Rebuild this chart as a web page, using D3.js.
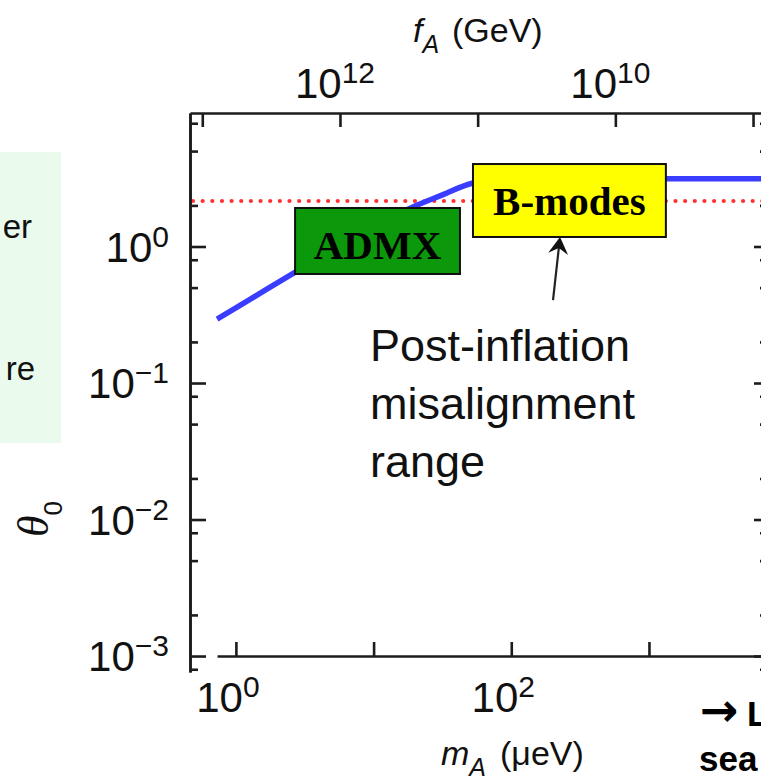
<!DOCTYPE html>
<html><head><meta charset="utf-8">
<script src="https://cdn.jsdelivr.net/npm/d3@7"></script>
<style>html,body{margin:0;padding:0;background:#fff;} svg{display:block;}</style>
</head><body><svg id="chart" width="761" height="782"></svg>
<script>
// ---------- data ----------
const massMicroeV = [0.73, 1, 2.7, 5, 10, 19.3, 30, 52.7, 80, 150, 400, 7000];
const theta0 = [0.294, 0.355, 0.65, 0.94, 1.40, 1.95, 2.34, 2.92, 3.08, 3.13, 3.14, 3.14];
const postInflationTheta = 2.155;
const bottomTickExps = [0, 1, 2, 3];
const bottomLabelExps = [0, 2];
const topTickExps = [13, 12, 11, 10, 9];
const topLabelExps = [12, 10];
const leftMajorExps = [0, -1, -2, -3];
const leftLabelExps = [0, -1, -2, -3];
const minorMultipliers = [2, 5, 8];
const boxLabels = ["ADMX", "B-modes"];
const boxMass = [[2.69, 42.4], [52.7, 1327]];
const boxTheta = [[0.629, 1.915], [1.174, 4.02]];
const boxFill = ["#0b990b", "#ffff00"];
const annotationLines = ["Post-inflation", "misalignment", "range"];
const arrowFrom = [201, 0.405];
const arrowTo = [226, 1.174];
const conversion = 5.7e12; // f_A [GeV] * m_A [μeV]
const sideTexts = ["er", "re"];

// ---------- setup ----------
const svg = d3.select("#chart");
svg.append("rect").attr("width", 761).attr("height", 782).attr("fill", "#fff");

const x = d3.scaleLog().domain([Math.pow(10, -1/3), Math.pow(10, 3.85)]).range([190, 766]);
const y = d3.scaleLog().domain([Math.pow(10, -3.117), Math.pow(10, 0.978)]).range([672, 113]);
const fx = d3.scaleLog().domain([conversion / x.domain()[0], conversion / x.domain()[1]]).range([190, 766]);
const xb = d3.scaleLog().domain([massMicroeV[0], x.domain()[1]]).range([x(massMicroeV[0]), 766]);

const SANS = "'Liberation Sans', Arial, Helvetica, sans-serif";
const SERIF = "'Liberation Serif', 'Times New Roman', serif";
const AX = "#1c1c1c";

// left side panel (cropped neighbour)
svg.append("rect").attr("x", 0).attr("y", 152).attr("width", 61).attr("height", 291).attr("fill", "#eafbee");
svg.append("text").attr("x", 32).attr("y", 238).attr("text-anchor", "end")
  .attr("font-family", SANS).attr("font-size", 33).attr("fill", "#111").text(sideTexts[0]);
svg.append("text").attr("x", 35).attr("y", 380).attr("text-anchor", "end")
  .attr("font-family", SANS).attr("font-size", 33).attr("fill", "#111").text(sideTexts[1]);

// clip
svg.append("clipPath").attr("id", "plotclip").append("rect")
  .attr("x", 190).attr("y", 113).attr("width", 576).attr("height", 559);
const plot = svg.append("g").attr("clip-path", "url(#plotclip)");

// red dotted line
plot.append("path")
  .attr("d", d3.line()([[x.range()[0] + 3, y(postInflationTheta)], [x.range()[1], y(postInflationTheta)]]))
  .attr("stroke", "#ff3030").attr("stroke-width", 4.2).attr("stroke-linecap", "round")
  .attr("stroke-dasharray", "0 9.65").attr("fill", "none");

// blue curve
const pts = massMicroeV.map((m, i) => [m, theta0[i]]);
plot.append("path").datum(pts)
  .attr("d", d3.line().x(d => x(d[0])).y(d => y(d[1])).curve(d3.curveMonotoneX))
  .attr("stroke", "#3a3cff").attr("stroke-width", 5.5).attr("fill", "none");

// boxes
boxLabels.forEach((lab, i) => {
  const x0 = x(boxMass[i][0]), x1 = x(boxMass[i][1]);
  const y0 = y(boxTheta[i][1]), y1 = y(boxTheta[i][0]);
  svg.append("rect").attr("x", x0).attr("y", y0).attr("width", x1 - x0).attr("height", y1 - y0)
    .attr("fill", boxFill[i]).attr("stroke", "#111").attr("stroke-width", 2);
  svg.append("text").attr("x", (x0 + x1) / 2).attr("y", y1 - (i === 0 ? 15 : 22))
    .attr("text-anchor", "middle").attr("font-family", SERIF).attr("font-weight", "bold")
    .attr("font-size", 41).attr("fill", "#000").text(lab);
});

// arrow
{
  const tx = x(arrowTo[0]), ty = y(arrowTo[1]);
  const sx = x(arrowFrom[0]), sy = y(arrowFrom[1]);
  const ang = Math.atan2(ty - sy, tx - sx);
  const L = 17, W = 10, N = 6;
  const ux = Math.cos(ang), uy = Math.sin(ang), px = -uy, py = ux;
  svg.append("line").attr("x1", sx).attr("y1", sy).attr("x2", tx - ux * 10).attr("y2", ty - uy * 10)
    .attr("stroke", "#222").attr("stroke-width", 2.2);
  const head = [
    [tx, ty],
    [tx - ux * L + px * W, ty - uy * L + py * W],
    [tx - ux * (L - N), ty - uy * (L - N)],
    [tx - ux * L - px * W, ty - uy * L - py * W]
  ];
  svg.append("path").attr("d", "M" + head.map(p => p.join(",")).join("L") + "Z").attr("fill", "#111");
}

// annotation text
annotationLines.forEach((t, i) => {
  svg.append("text").attr("x", 370).attr("y", 361 + i * 58)
    .attr("font-family", SANS).attr("font-size", 45).attr("fill", "#111").text(t);
});

// ---------- axes ----------
function styleAxis(g) {
  g.selectAll("path.domain").attr("stroke", AX).attr("stroke-width", 2.6);
  g.selectAll(".tick line").attr("stroke", AX).attr("stroke-width", 2.6);
  g.selectAll(".tick text").remove();
}
const minorVals = [];
d3.range(-4, 1).forEach(k => minorMultipliers.forEach(mm => {
  const v = mm * Math.pow(10, k);
  if (v >= y.domain()[0] && v <= y.domain()[1]) minorVals.push(v);
}));
const majorVals = leftMajorExps.map(e => Math.pow(10, e));

// left axis (ticks inward)
svg.append("g").attr("transform", "translate(190,0)")
  .call(d3.axisRight(y).tickValues(majorVals).tickSize(16).tickSizeOuter(0).tickFormat(""))
  .call(styleAxis);
svg.append("g").attr("transform", "translate(190,0)")
  .call(d3.axisRight(y).tickValues(minorVals).tickSize(8).tickSizeOuter(0).tickFormat(""))
  .call(styleAxis);
// right axis (mostly off-canvas)
svg.append("g").attr("transform", "translate(766,0)")
  .call(d3.axisLeft(y).tickValues(majorVals).tickSize(12).tickSizeOuter(0).tickFormat(""))
  .call(styleAxis);
svg.append("g").attr("transform", "translate(766,0)")
  .call(d3.axisLeft(y).tickValues(minorVals).tickSize(6).tickSizeOuter(0).tickFormat(""))
  .call(styleAxis);
// top axis f_A
svg.append("g").attr("transform", "translate(0,113)")
  .call(d3.axisBottom(fx).tickValues(topTickExps.map(e => Math.pow(10, e))).tickSize(14).tickSizeOuter(0).tickFormat(""))
  .call(styleAxis);
// bottom axis m_A
svg.append("g").attr("transform", "translate(0,656)")
  .call(d3.axisTop(xb).tickValues(bottomTickExps.map(e => Math.pow(10, e))).tickSize(14).tickSizeOuter(0).tickFormat(""))
  .call(styleAxis);

// power labels
function powLabel(px, py, exp, anchor) {
  const t = svg.append("text").attr("x", px).attr("y", py).attr("text-anchor", anchor)
    .attr("font-family", SANS).attr("fill", "#111");
  t.append("tspan").attr("font-size", 42).text("10");
  t.append("tspan").attr("font-size", 30).attr("dy", -15).text(String(exp).replace("-", "\u2212"));
}
leftLabelExps.forEach(e => powLabel(169, y(Math.pow(10, e)) + 15, e, "end"));
topLabelExps.forEach(e => powLabel(fx(Math.pow(10, e)) - 5, 98, e, "middle"));
bottomLabelExps.forEach(e => powLabel(x(Math.pow(10, e)) - 8, 712, e, "middle"));

// axis titles
{
  const t = svg.append("text").attr("x", 413).attr("y", 42).attr("font-family", SANS).attr("fill", "#111");
  t.append("tspan").attr("font-size", 34).attr("font-style", "italic").text("f");
  t.append("tspan").attr("font-size", 25).attr("font-style", "italic").attr("dy", 11).text("A");
  t.append("tspan").attr("font-size", 34).attr("x", 452).attr("dy", -11).text("(GeV)");
}
{
  const t = svg.append("text").attr("x", 441).attr("y", 765).attr("font-family", SANS).attr("fill", "#111");
  t.append("tspan").attr("font-size", 34).attr("font-style", "italic").text("m");
  t.append("tspan").attr("font-size", 25).attr("font-style", "italic").attr("dy", 11).text("A");
  t.append("tspan").attr("font-size", 34).attr("x", 500).attr("dy", -11).text("(\u03bceV)");
}
{
  const t = svg.append("text").attr("transform", "translate(48,537) rotate(-90)").attr("fill", "#111");
  t.append("tspan").attr("font-family", SERIF).attr("font-style", "italic").attr("font-size", 44).text("\u03b8");
  t.append("tspan").attr("font-family", SANS).attr("font-size", 26).attr("dy", 14).text("0");
}

// bottom-right cropped neighbour text
{
  const t = svg.append("text").attr("x", 700).attr("y", 726)
    .attr("font-weight", "bold").attr("fill", "#000");
  t.append("tspan").attr("font-family", "'DejaVu Sans', sans-serif").attr("font-size", 46).text("\u2192");
  t.append("tspan").attr("font-family", SANS).attr("font-size", 35).attr("x", 747).text("L");
  svg.append("text").attr("x", 699).attr("y", 771).attr("font-family", SANS)
    .attr("font-weight", "bold").attr("font-size", 35).attr("fill", "#000").text("sea");
}
</script>
</body></html>
